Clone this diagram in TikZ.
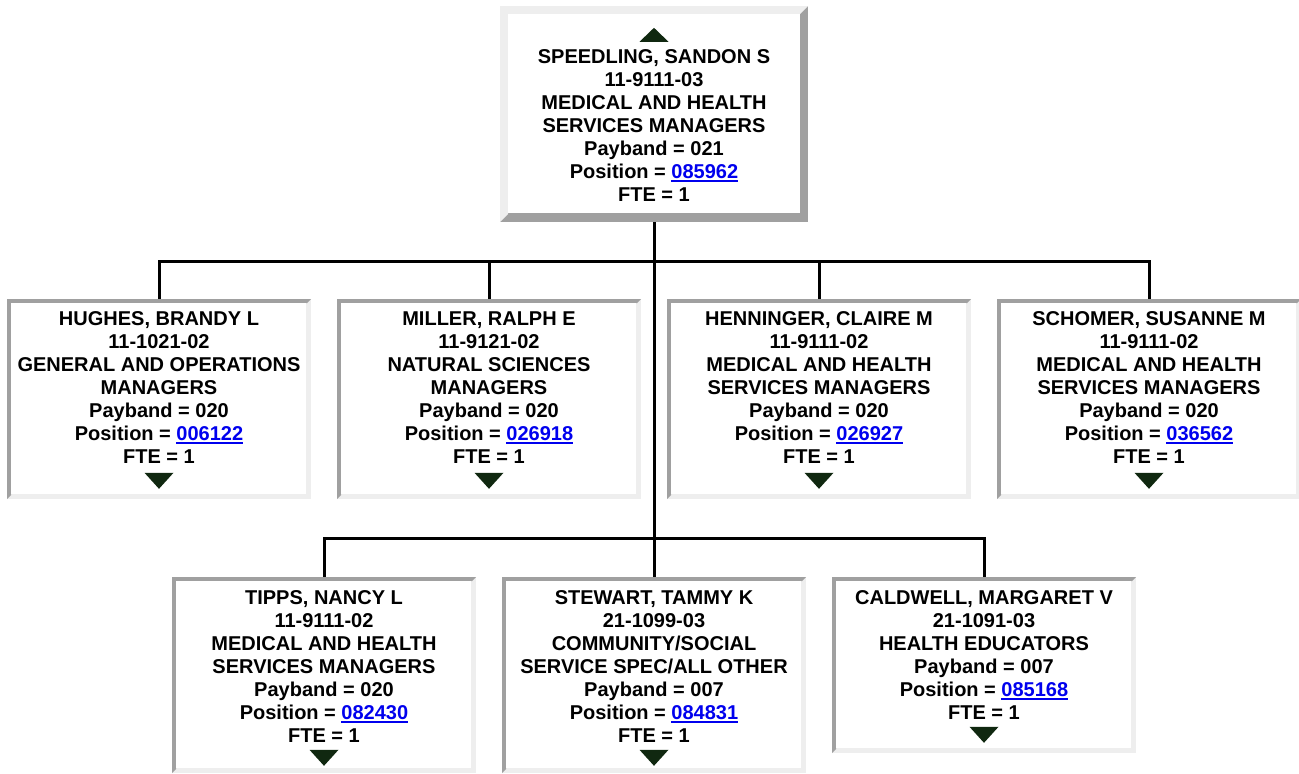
\documentclass[tikz,border=0pt]{standalone}
\usepackage{fontspec}
\setmainfont{Liberation Sans}
\usetikzlibrary{calc}
\definecolor{lightg}{RGB}{238,238,238}
\definecolor{darkg}{RGB}{160,160,160}
\definecolor{tricol}{RGB}{16,40,16}
\definecolor{linkblue}{RGB}{0,0,238}
\newcommand\lnk[1]{\textcolor{linkblue}{\setbox0\hbox{#1}\rlap{\rule[-3.5pt]{\wd0}{1.8pt}}\box0}}
\newcommand\fstrut{\rule{0pt}{15pt}}
\newcommand\dtri[2]{\fill[tricol] ([shift={(-14.5,#2)}]#1.north) -- ([shift={(14.5,#2)}]#1.north) -- ([shift={(0,#2+16)}]#1.north) -- cycle;}
\tikzset{
  inset/.style={rectangle, inner sep=0pt, fill=lightg, path picture={
    \fill[darkg] (path picture bounding box.south west) -- (path picture bounding box.north west)
      -- (path picture bounding box.north east) -- ([shift={(-4pt,-4pt)}]path picture bounding box.north east)
      -- ([shift={(4pt,-4pt)}]path picture bounding box.north west) -- ([shift={(4pt,4pt)}]path picture bounding box.south west) -- cycle;
    \fill[white] ([shift={(4pt,5pt)}]path picture bounding box.south west) rectangle ([shift={(-5pt,-4pt)}]path picture bounding box.north east);
  }},
  outset/.style={rectangle, inner sep=0pt, fill=darkg, path picture={
    \fill[lightg] (path picture bounding box.south west) -- (path picture bounding box.north west)
      -- (path picture bounding box.north east) -- ([shift={(-8pt,-8pt)}]path picture bounding box.north east)
      -- ([shift={(8pt,-8pt)}]path picture bounding box.north west) -- ([shift={(8pt,8pt)}]path picture bounding box.south west) -- cycle;
    \fill[white] ([shift={(8pt,9pt)}]path picture bounding box.south west) rectangle ([shift={(-8pt,-8pt)}]path picture bounding box.north east);
  }},
  txt/.style={anchor=north, align=center, inner sep=0pt, font=\fontsize{20}{23}\selectfont\bfseries},
  conn/.style={line width=3pt, line join=miter, draw=black},
  row1/.style={inset, minimum width=304pt, minimum height=200pt},
  row2/.style={inset, minimum width=304pt, minimum height=196pt},
}
\begin{document}
\begin{tikzpicture}[x=1pt,y=-1pt]
\useasboundingbox (0,0) rectangle (1299,774);
\fill[white] (0,0) rectangle (1299,774);
% boxes
\node[outset, minimum width=308pt, minimum height=216pt] (speedling) at (654,114) {};
\node[row1] (hughes) at (159,399) {};
\node[row1] (miller) at (489,399) {};
\node[row1] (henninger) at (819,399) {};
\node[row1] (schomer) at (1149,399) {};
\node[row2] (tipps) at (324,675) {};
\node[row2] (stewart) at (654,675) {};
\node[inset, minimum width=304pt, minimum height=176pt] (caldwell) at (984,665) {};
% connectors
\coordinate (bus1) at (654,261);
\coordinate (bus2) at (654,538);
\draw[conn] (speedling.south) -- (bus2);
\draw[conn] (hughes.north) -- (hughes.north |- bus1) -- (schomer.north |- bus1) -- (schomer.north);
\draw[conn] (miller.north |- bus1) -- (miller.north);
\draw[conn] (henninger.north |- bus1) -- (henninger.north);
\draw[conn] (tipps.north) -- (tipps.north |- bus2) -- (caldwell.north |- bus2) -- (caldwell.north);
\draw[conn] (stewart.north |- bus2) -- (stewart.north);
% texts
\node[txt] (speedling-t) at ($(speedling.north)+(0,42)$) {\fstrut SPEEDLING, SANDON S\\11-9111-03\\MEDICAL AND HEALTH\\SERVICES MANAGERS\\Payband = 021\\Position = \lnk{085962}\\FTE = 1};
\node[txt] (hughes-t) at ($(hughes.north)+(0,11)$) {\fstrut HUGHES, BRANDY L\\11-1021-02\\GENERAL AND OPERATIONS\\MANAGERS\\Payband = 020\\Position = \lnk{006122}\\FTE = 1};
\node[txt] (miller-t) at ($(miller.north)+(0,11)$) {\fstrut MILLER, RALPH E\\11-9121-02\\NATURAL SCIENCES\\MANAGERS\\Payband = 020\\Position = \lnk{026918}\\FTE = 1};
\node[txt] (henninger-t) at ($(henninger.north)+(0,11)$) {\fstrut HENNINGER, CLAIRE M\\11-9111-02\\MEDICAL AND HEALTH\\SERVICES MANAGERS\\Payband = 020\\Position = \lnk{026927}\\FTE = 1};
\node[txt] (schomer-t) at ($(schomer.north)+(0,11)$) {\fstrut SCHOMER, SUSANNE M\\11-9111-02\\MEDICAL AND HEALTH\\SERVICES MANAGERS\\Payband = 020\\Position = \lnk{036562}\\FTE = 1};
\node[txt] (tipps-t) at ($(tipps.north)+(0,12)$) {\fstrut TIPPS, NANCY L\\11-9111-02\\MEDICAL AND HEALTH\\SERVICES MANAGERS\\Payband = 020\\Position = \lnk{082430}\\FTE = 1};
\node[txt] (stewart-t) at ($(stewart.north)+(0,12)$) {\fstrut STEWART, TAMMY K\\21-1099-03\\COMMUNITY/SOCIAL\\SERVICE SPEC/ALL OTHER\\Payband = 007\\Position = \lnk{084831}\\FTE = 1};
\node[txt] (caldwell-t) at ($(caldwell.north)+(0,12)$) {\fstrut CALDWELL, MARGARET V\\21-1091-03\\HEALTH EDUCATORS\\Payband = 007\\Position = \lnk{085168}\\FTE = 1};
% triangles
\fill[tricol] ([shift={(-14.5,36)}]speedling.north) -- ([shift={(14.5,36)}]speedling.north) -- ([shift={(0,22)}]speedling.north) -- cycle;
\dtri{hughes}{174}
\dtri{miller}{174}
\dtri{henninger}{174}
\dtri{schomer}{174}
\dtri{tipps}{173}
\dtri{stewart}{173}
\dtri{caldwell}{150}
\end{tikzpicture}
\end{document}
